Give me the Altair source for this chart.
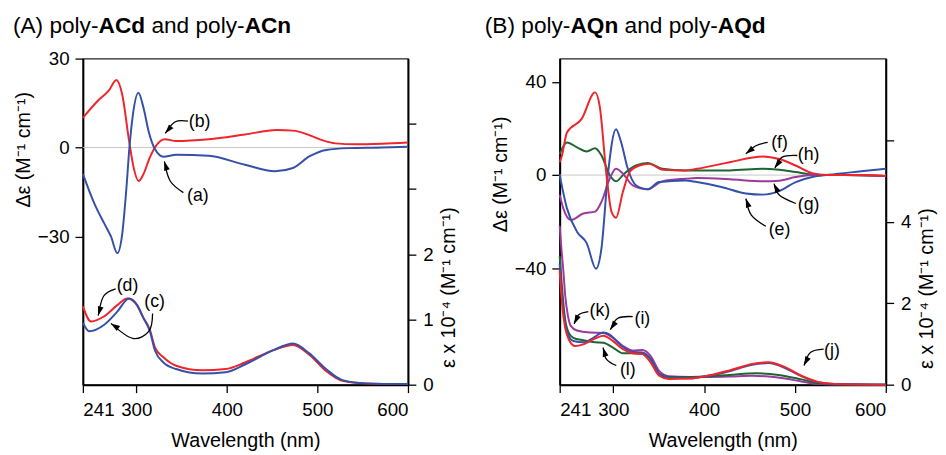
import math
import altair as alt
import pandas as pd

FONT = "Liberation Sans"
RED, BLUE, GREEN, PURPLE = "#f0242b", "#3451a8", "#1d6531", "#9c3a9c"
SERIES_NAMES = ["red", "blue", "green", "purple"]
SERIES_COLORS = [RED, BLUE, GREEN, PURPLE]

# ---------------- Panel A : poly-ACd / poly-ACn ----------------
A_cd_red_wl = [241, 257, 270, 278, 284.5, 292, 297, 302.6, 308, 315, 322.5, 331.5, 344, 380, 420, 455, 473, 491, 506, 520, 542, 571, 600]
A_cd_red = [10, 15.6, 19.4, 22.8, 17.8, 2.3, -6.7, -11.3, -8.9, -3.3, 0.9, 2.8, 2.2, 2.8, 4.4, 5.9, 5.7, 4.2, 2.4, 1.4, 1.1, 1.3, 1.7]
A_cd_blue_wl = [241, 253.7, 264.6, 272, 279, 284.5, 289, 292.4, 296, 302.3, 308, 313.5, 320.7, 330, 344, 380, 420, 453, 473, 491, 509.5, 534.5, 571, 600]
A_cd_blue = [-8.9, -18.9, -25.6, -30, -35.6, -29, -14, 0, 10.5, 18.5, 13.3, 5.6, -0.6, -3.1, -2.4, -2.8, -5.8, -8, -6.9, -3, -0.8, -0.2, 0, 0.3]

A_ab_red_wl = [241, 250, 264.6, 279, 290, 299, 308, 315, 320.7, 330, 344, 373, 398.6, 420, 451.5, 473, 491, 509.5, 527.6, 553, 600]
A_ab_red = [1.20, 0.97, 1.05, 1.22, 1.32, 1.25, 1.02, 0.84, 0.57, 0.42, 0.29, 0.22, 0.24, 0.34, 0.53, 0.61, 0.46, 0.21, 0.06, 0.02, 0.01]
A_ab_blue_wl = [241, 248, 264.6, 279, 292, 301, 308, 315, 320.7, 330, 344, 373, 398.6, 420, 451.5, 473, 491, 509.5, 527.6, 553, 600]
A_ab_blue = [0.95, 0.82, 0.92, 1.12, 1.32, 1.22, 1.02, 0.82, 0.52, 0.34, 0.24, 0.17, 0.19, 0.31, 0.53, 0.63, 0.48, 0.24, 0.07, 0.02, 0.01]

A_cd_labels = ["(a)", "(b)"]
A_cd_label_wl = [368, 370]
A_cd_label_val = [-16.3, 8.7]
A_cd_arrows = [[(352, -15.2), (337.4, -11.3), (331, -4.7)],
               [(357, 8.9), (343, 8.7), (332, 4.8)]]
A_ab_labels = ["(c)", "(d)"]
A_ab_label_wl = [320.3, 290.3]
A_ab_label_val = [1.26, 1.51]
A_ab_arrows = [[(318, 1.09), (314, 0.82), (296, 0.71), (272, 0.94)],
               [(277.2, 1.47), (264, 1.36), (258, 1.06)]]

# ---------------- Panel B : poly-AQn / poly-AQd ----------------
B_cd_red_wl = [241, 243.5, 249, 265, 280, 285, 292.5, 298, 303, 310.6, 318, 328.7, 339.6, 354, 379, 392, 419, 428, 464.6, 482.6, 500.8, 519, 537, 573, 600]
B_cd_red = [5.5, 8.4, 18.3, 24, 35.5, 29.7, 0, -15.7, -18.3, -7.2, 1.3, 4.1, 4.8, 2.3, 2.0, 2.7, 4.8, 5.5, 8.0, 6.9, 4.1, 0.85, 0, 0, -0.4]
B_cd_green_wl = [241, 249, 260, 270.7, 280, 287, 296, 303, 312, 325, 337.7, 354, 379, 392, 428, 464.6, 482.6, 500.8, 519, 555, 600]
B_cd_green = [9, 14, 11.9, 10.1, 11.5, 8.4, 0, -2.7, 0.6, 4.1, 5.2, 2.7, 2.0, 2.0, 2.0, 2.7, 2.3, 1.3, 0.3, 0, -0.4]
B_cd_blue_wl = [241, 249, 260, 270.7, 281, 287, 294, 303, 308.7, 316, 325, 337.7, 350.5, 379, 392, 419, 446, 464.6, 482.6, 500.8, 519, 537, 573, 600]
B_cd_blue = [0, -14.3, -24.3, -29.2, -40.2, -31.4, 0, 19.7, 14, 2.7, -4.4, -6.1, -3.0, -2.3, -3, -5.1, -7.9, -8.4, -6.9, -3, -0.85, 0.1, 1.6, 2.7]
B_cd_purple_wl = [241, 245, 253.3, 267, 280, 287, 296, 303, 310.6, 321.4, 337.7, 354, 379, 392, 428, 464.6, 482.6, 500.8, 519, 555, 600]
B_cd_purple = [-8.5, -14.3, -19.3, -16.5, -15.7, -11.5, -1.6, 2.7, 0.6, -4.4, -6.1, -2.7, -1.6, -1.3, -1.8, -2.7, -2.4, -0.85, 0, 0, -0.4]

B_ab_red_wl = [241, 243.5, 247, 251, 258, 267, 278, 289, 299.7, 310.6, 321.4, 332, 341, 350.5, 361, 385, 400, 428, 453, 471, 489, 507, 525, 543, 600]
B_ab_red = [2.8, 2.0, 1.4, 1.11, 0.95, 0.99, 1.11, 1.20, 1.07, 0.87, 0.77, 0.75, 0.55, 0.22, 0.14, 0.15, 0.2, 0.35, 0.51, 0.55, 0.43, 0.22, 0.07, 0.02, 0.0]
B_ab_blue_wl = [241, 243.5, 247, 251, 256, 267, 278, 289, 296, 307, 321.4, 332, 341, 350.5, 361, 385, 400, 428, 453, 471, 489, 507, 525, 543, 600]
B_ab_blue = [2.96, 2.2, 1.5, 1.19, 1.07, 1.04, 1.15, 1.28, 1.23, 0.99, 0.80, 0.79, 0.63, 0.27, 0.17, 0.16, 0.2, 0.33, 0.49, 0.53, 0.41, 0.21, 0.06, 0.02, 0.0]
B_ab_green_wl = [241, 243.5, 247, 251, 256, 267, 280, 289, 299.7, 310.6, 321.4, 332, 341, 350.5, 361, 385, 400, 428, 457, 482, 507, 525, 543, 600]
B_ab_green = [3.16, 2.4, 1.6, 1.27, 1.15, 1.09, 1.04, 1.03, 0.91, 0.77, 0.77, 0.76, 0.63, 0.27, 0.19, 0.19, 0.2, 0.24, 0.28, 0.24, 0.13, 0.04, 0.01, 0.0]
B_ab_purple_wl = [241, 243, 245, 247, 250, 253, 260, 274, 289, 299.7, 310.6, 321.4, 332, 341, 350.5, 361, 385, 400, 428, 453, 471, 489, 507, 525, 543, 600]
B_ab_purple = [3.9, 3.3, 2.8, 2.2, 1.7, 1.45, 1.33, 1.28, 1.27, 1.15, 0.95, 0.84, 0.85, 0.71, 0.34, 0.21, 0.19, 0.19, 0.2, 0.22, 0.2, 0.15, 0.08, 0.02, 0.005, 0.0]

B_cd_labels = ["(e)", "(f)", "(g)", "(h)"]
B_cd_label_wl = [483, 483, 515, 515]
B_cd_label_val = [-23.5, 13.8, -12.9, 8.4]
B_cd_arrows = [[(468, -22), (452, -17.2), (446, -10.1)],
               [(470, 14), (457, 12.6), (446, 9.1)],
               [(501, -12.2), (483, -8.7), (477, -3.7)],
               [(502.6, 8.4), (486, 7.7), (478, 3.0)]]
B_ab_labels = ["(i)", "(j)", "(k)", "(l)"]
B_ab_label_wl = [332, 540.7, 285.2, 316]
B_ab_label_val = [1.61, 0.83, 1.81, 0.37]
B_ab_arrows = [[(321.4, 1.67), (305, 1.63), (296.8, 1.35)],
               [(531.6, 0.87), (517, 0.79), (510, 0.47)],
               [(272.5, 1.79), (261.6, 1.71), (257, 1.49)],
               [(303.3, 0.47), (292.4, 0.63), (288.8, 0.91)]]

ARROW_HEAD = "M0,0L-0.75,2.3L0.75,2.3Z"
color_enc = alt.Color("series:N", scale=alt.Scale(domain=SERIES_NAMES, range=SERIES_COLORS), legend=None)


def series_df(series):
    rows = []
    for name, wl, vals in series:
        for w, v in zip(wl, vals):
            rows.append({"series": name, "wl": w, "val": v})
    return pd.DataFrame(rows)


def arrow_dfs(arrows, sx, sy):
    rows, heads = [], []
    for i, pts in enumerate(arrows):
        for j, (w, v) in enumerate(pts):
            rows.append({"id": i, "ord": j, "wl": w, "val": v})
        (w1, v1), (w2, v2) = pts[-2], pts[-1]
        ang = math.degrees(math.atan2((w2 - w1) * sx, (v2 - v1) * sy)) % 360
        heads.append({"wl": w2, "val": v2, "ang": ang})
    return pd.DataFrame(rows), pd.DataFrame(heads)


def side_layers(series, labels, lwl, lval, arrows, xenc, yenc, sx, sy, zero=False):
    layers = []
    if zero:
        layers.append(alt.Chart(pd.DataFrame({"val": [0]})).mark_rule(color="#c8c8c8", strokeWidth=1).encode(y=yenc))
    layers.append(alt.Chart(series_df(series)).mark_line(strokeWidth=2, interpolate="monotone").encode(
        x=xenc, y=yenc, color=color_enc))
    adf, hdf = arrow_dfs(arrows, sx, sy)
    layers.append(alt.Chart(adf).mark_line(color="black", strokeWidth=1.3, interpolate="cardinal").encode(
        x=xenc, y=yenc, detail="id:N", order="ord:Q"))
    layers.append(alt.Chart(hdf).mark_point(shape=ARROW_HEAD, filled=True, color="black", size=64, opacity=1,
                                            strokeWidth=0).encode(
        x=xenc, y=yenc, angle=alt.Angle("ang:Q", scale=None)))
    ldf = pd.DataFrame({"label": labels, "wl": lwl, "val": lval})
    layers.append(alt.Chart(ldf).mark_text(font=FONT, fontSize=18, color="black").encode(
        x=xenc, y=yenc, text="label:N"))
    return layers


def title_layers(parts):
    out = []
    for txt, bold, xoff in parts:
        out.append(alt.Chart(pd.DataFrame({"t": [txt]})).mark_text(
            font=FONT, fontSize=23, fontWeight="bold" if bold else "normal", align="left",
            baseline="alphabetic", color="black").encode(
            x=alt.value(xoff), y=alt.value(-26), text="t:N"))
    return out


def panel(W, H, cd_dom, ab_dom, cd_ticks, ab_ticks, ab_max, cd_series, ab_series, cd_ann, ab_ann,
          title_parts, left_ty, right_ty):
    sx = W / (600 - 241)
    sy_cd = H / (cd_dom[1] - cd_dom[0])
    sy_ab = H / (ab_dom[1] - ab_dom[0])
    xenc = alt.X("wl:Q", scale=alt.Scale(domain=[241, 600], nice=False, zero=False),
                 axis=alt.Axis(values=[241, 300, 400, 500, 600], title="Wavelength (nm)",
                               labelPadding=8, titlePadding=12))
    ycd = alt.Y("val:Q", scale=alt.Scale(domain=cd_dom, nice=False, zero=False),
                axis=alt.Axis(orient="left", values=cd_ticks, title="Δε (M⁻¹ cm⁻¹)", titleY=left_ty,
                              titleAlign="center", labelPadding=6, titlePadding=4))
    yab = alt.Y("val:Q", scale=alt.Scale(domain=ab_dom, nice=False, zero=False),
                axis=alt.Axis(orient="right", values=ab_ticks,
                              labelExpr=f"datum.value <= {ab_max} ? datum.label : ''",
                              title="ε x 10⁻⁴ (M⁻¹ cm⁻¹)", titleAngle=270, titleBaseline="top",
                              titleY=right_ty, titleAlign="center", labelPadding=7, titlePadding=6))
    cd_group = alt.layer(*side_layers(cd_series, *cd_ann, xenc, ycd, sx, sy_cd, zero=True),
                         *title_layers(title_parts))
    ab_group = alt.layer(*side_layers(ab_series, *ab_ann, xenc, yab, sx, sy_ab))
    return alt.layer(cd_group, ab_group).resolve_scale(y="independent").properties(width=W, height=H)


panelA = panel(
    330, 331, [-80, 30], [0, 5], [30, 0, -30], [0, 1, 2, 3, 4], 2,
    [("red", A_cd_red_wl, A_cd_red), ("blue", A_cd_blue_wl, A_cd_blue)],
    [("red", A_ab_red_wl, A_ab_red), ("blue", A_ab_blue_wl, A_ab_blue)],
    (A_cd_labels, A_cd_label_wl, A_cd_label_val, A_cd_arrows),
    (A_ab_labels, A_ab_label_wl, A_ab_label_val, A_ab_arrows),
    [("(A) poly-", False, -71), ("ACd", True, 15.9), ("and poly-", False, 69.6), ("ACn", True, 164.2)],
    92, 232)

panelB = panel(
    331, 331, [-90, 50], [0, 8], [40, 0, -40], [0, 2, 4, 6], 4,
    [("green", B_cd_green_wl, B_cd_green), ("purple", B_cd_purple_wl, B_cd_purple),
     ("blue", B_cd_blue_wl, B_cd_blue), ("red", B_cd_red_wl, B_cd_red)],
    [("purple", B_ab_purple_wl, B_ab_purple), ("green", B_ab_green_wl, B_ab_green),
     ("blue", B_ab_blue_wl, B_ab_blue), ("red", B_ab_red_wl, B_ab_red)],
    (B_cd_labels, B_cd_label_wl, B_cd_label_val, B_cd_arrows),
    (B_ab_labels, B_ab_label_wl, B_ab_label_val, B_ab_arrows),
    [("(B) poly-", False, -76), ("AQn", True, 10.9), ("and poly-", False, 65.9), ("AQd", True, 160.5)],
    117, 233)

chart = alt.hconcat(panelA, panelB, spacing=24).properties(
    padding={"left": 4, "top": 3, "right": 0, "bottom": 0}
).configure_view(stroke="#222222", strokeWidth=1.2).configure_axis(
    labelFont=FONT, titleFont=FONT, labelFontSize=19, titleFontSize=20, titleFontWeight="normal",
    labelColor="black", titleColor="black", domainColor="black", domainWidth=2,
    tickColor="black", tickSize=8, tickWidth=1.3, grid=False
)

chart.save("out.html", embed_options={"renderer": "svg", "actions": False})
